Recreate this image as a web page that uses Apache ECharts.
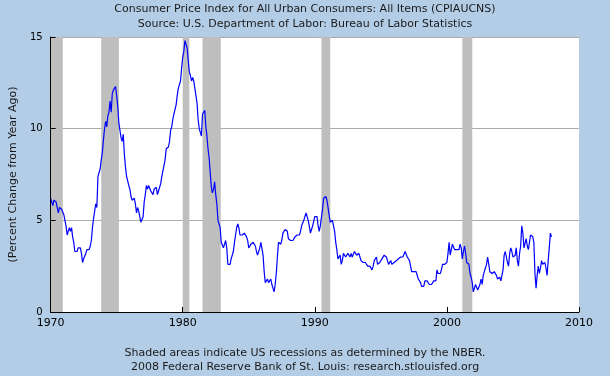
<!DOCTYPE html>
<html>
<head>
<meta charset="utf-8">
<script src="https://cdn.jsdelivr.net/npm/echarts@6/dist/echarts.min.js"></script>
<style>
    html, body { margin: 0; padding: 0; background: #b4cde6; }
    #chart { width: 610px; height: 376px; }
</style>
</head>
<body>
<div id="chart"></div>
<script>
// CPI-U, percent change from year ago, monthly (Jan..Dec per row)
const cpi1970s = [
    6.2, 6.1, 5.8, 6.1, 6.0, 6.0, 5.9, 5.4, 5.7, 5.7, 5.6, 5.6,
    5.3, 5.0, 4.7, 4.2, 4.4, 4.6, 4.4, 4.6, 4.1, 3.8, 3.3, 3.3,
    3.3, 3.5, 3.5, 3.5, 3.2, 2.7, 2.9, 2.9, 3.2, 3.4, 3.5, 3.4,
    3.6, 3.9, 4.6, 5.1, 5.5, 5.9, 5.7, 7.4, 7.4, 7.8, 8.3, 8.7,
    9.4, 10.0, 10.4, 10.1, 10.7, 10.9, 11.5, 10.9, 11.9, 12.1, 12.2, 12.3,
    11.8, 11.2, 10.3, 10.2, 9.5, 9.3, 9.7, 8.6, 7.9, 7.4, 7.4, 6.9,
    6.7, 6.3, 6.1, 6.0, 6.2, 5.9, 5.4, 5.7, 5.5, 5.5, 4.9, 4.9,
    5.2, 6.0, 6.4, 6.9, 6.7, 6.9, 6.8, 6.6, 6.6, 6.4, 6.7, 6.7,
    6.8, 6.4, 6.6, 6.5, 7.0, 7.4, 7.7, 7.8, 8.3, 8.9, 8.9, 9.0,
    9.3, 9.9, 10.1, 10.5, 10.8, 10.9, 11.3, 11.8, 12.2, 12.1, 12.6, 13.3
]
const cpi1980s = [
    13.9, 14.2, 14.8, 14.7, 14.4, 14.4, 13.1, 12.9, 12.6, 12.8, 12.6, 12.5,
    11.8, 11.4, 10.5, 10.0, 9.8, 9.6, 10.8, 10.8, 11.0, 10.1, 9.6, 8.9,
    8.4, 7.6, 6.8, 6.5, 6.7, 7.1, 6.4, 5.9, 5.0, 5.1, 4.6, 3.8,
    3.7, 3.5, 3.6, 3.9, 3.5, 2.6, 2.5, 2.6, 2.9, 2.9, 3.3, 3.8,
    4.2, 4.6, 4.8, 4.6, 4.2, 4.2, 4.2, 4.3, 4.3, 4.3, 4.1, 3.9,
    3.5, 3.5, 3.7, 3.7, 3.8, 3.8, 3.6, 3.3, 3.1, 3.2, 3.5, 3.8,
    3.9, 3.1, 2.2, 1.6, 1.6, 1.8, 1.6, 1.6, 1.8, 1.5, 1.3, 1.1,
    1.5, 2.1, 3.0, 3.8, 3.9, 3.7, 3.9, 4.3, 4.4, 4.5, 4.5, 4.4,
    4.0, 3.9, 3.9, 3.9, 3.9, 4.0, 4.1, 4.0, 4.2, 4.2, 4.2, 4.4,
    4.7, 4.8, 5.0, 5.1, 5.4, 5.2, 5.0, 4.7, 4.3, 4.5, 4.7, 4.6
]
const cpi1990s = [
    5.2, 5.3, 5.2, 4.7, 4.4, 4.7, 4.8, 5.6, 6.2, 6.3, 6.3, 6.1,
    5.7, 5.3, 4.9, 4.9, 5.0, 4.7, 4.4, 3.8, 3.4, 2.9, 3.0, 3.1,
    2.6, 2.8, 3.2, 3.2, 3.0, 3.1, 3.2, 3.1, 3.0, 3.2, 3.0, 2.9,
    3.3, 3.2, 3.1, 3.2, 3.2, 3.0, 2.8, 2.8, 2.7, 2.8, 2.7, 2.7,
    2.5, 2.5, 2.5, 2.4, 2.3, 2.5, 2.8, 2.9, 3.0, 2.6, 2.7, 2.7,
    2.8, 2.9, 2.9, 3.1, 3.2, 3.0, 2.8, 2.6, 2.5, 2.8, 2.6, 2.5,
    2.7, 2.7, 2.8, 2.9, 2.9, 2.8, 3.0, 2.9, 3.0, 3.0, 3.3, 3.3,
    3.0, 3.0, 2.8, 2.5, 2.2, 2.3, 2.2, 2.2, 2.2, 2.1, 1.8, 1.7,
    1.6, 1.4, 1.4, 1.4, 1.7, 1.7, 1.7, 1.6, 1.5, 1.5, 1.5, 1.6,
    1.7, 1.6, 1.7, 2.3, 2.1, 2.0, 2.1, 2.3, 2.6, 2.6, 2.6, 2.7
]
const cpi2000s = [
    2.7, 3.2, 3.8, 3.1, 3.2, 3.7, 3.7, 3.4, 3.5, 3.4, 3.4, 3.4,
    3.7, 3.5, 2.9, 3.3, 3.6, 3.2, 2.7, 2.7, 2.6, 2.1, 1.9, 1.6,
    1.1, 1.1, 1.5, 1.6, 1.2, 1.1, 1.5, 1.8, 1.5, 2.0, 2.2, 2.4,
    2.6, 3.0, 3.0, 2.2, 2.1, 2.1, 2.1, 2.2, 2.3, 2.0, 1.8, 1.9,
    1.9, 1.7, 1.7, 2.3, 3.1, 3.3, 3.0, 2.7, 2.5, 3.2, 3.5, 3.3,
    3.0, 3.0, 3.1, 3.5, 2.8, 2.5, 3.2, 3.6, 4.7, 4.3, 3.5, 3.4,
    4.0, 3.6, 3.4, 3.5, 4.2, 4.3, 4.1, 3.8, 2.1, 1.3, 2.0, 2.5,
    2.1, 2.4, 2.8, 2.6, 2.7, 2.7, 2.4, 2.0, 2.8, 3.5, 4.3, 4.1
]
const firstYear = 1970

// NBER recessions (decimal years)
const recessionStart = [1970.0, 1973.83, 1980.0, 1981.5, 1990.5, 2001.17]
const recessionEnd = [1970.92, 1975.17, 1980.5, 1982.88, 1991.17, 2001.92]

const xTicks = [1970, 1980, 1990, 2000, 2010]
const yTicks = [0, 5, 10, 15]

const cpiAll = cpi1970s.concat(cpi1980s, cpi1990s, cpi2000s)
const lineData = cpiAll.map((v, i) => [firstYear + i / 12, v])
const bands = recessionStart.map((s, i) => [{ xAxis: s }, { xAxis: recessionEnd[i] }])

const font = 'DejaVu Sans'
let mycharts = echarts.init(document.getElementById('chart'))
mycharts.setOption({
    animation: false,
    backgroundColor: '#b4cde6',
    textStyle: { fontFamily: font },
    title: [
        {
            text: 'Consumer Price Index for All Urban Consumers: All Items (CPIAUCNS)\nSource: U.S. Department of Labor: Bureau of Labor Statistics',
            left: 305,
            top: 2,
            padding: 0,
            textAlign: 'center',
            textStyle: { fontFamily: font, fontSize: 11, fontWeight: 'normal', color: '#1a1a1a', lineHeight: 15 }
        },
        {
            text: 'Shaded areas indicate US recessions as determined by the NBER.\n2008 Federal Reserve Bank of St. Louis: research.stlouisfed.org',
            left: 305,
            top: 346,
            padding: 0,
            textAlign: 'center',
            textStyle: { fontFamily: font, fontSize: 11, fontWeight: 'normal', color: '#1a1a1a', lineHeight: 14 }
        }
    ],
    grid: { left: 48, right: 31, top: 37, bottom: 64, show: true, backgroundColor: '#ffffff', borderWidth: 0 },
    xAxis: {
        type: 'value',
        min: xTicks[0],
        max: xTicks[xTicks.length - 1],
        interval: 10,
        z: 10,
        splitLine: { show: false },
        axisLine: { show: true, onZero: false, lineStyle: { color: '#000', width: 1 } },
        axisTick: { show: true, inside: true, length: 5, lineStyle: { color: '#000' } },
        axisLabel: { color: '#000', fontSize: 11, margin: 6, fontFamily: font, formatter: v => String(v) }
    },
    yAxis: [
        {
            type: 'value',
            min: yTicks[0],
            max: yTicks[yTicks.length - 1],
            interval: 5,
            z: 10,
            name: '(Percent Change from Year Ago)',
            nameLocation: 'middle',
            nameRotate: 90,
            nameGap: 24,
            nameTextStyle: { color: '#1a1a1a', fontSize: 11, fontFamily: font },
            splitLine: { show: false },
            axisLine: { show: true, lineStyle: { color: '#000', width: 1 } },
            axisTick: { show: true, inside: true, length: 5, lineStyle: { color: '#000' } },
            axisLabel: { color: '#000', fontSize: 10, margin: 8, fontFamily: font }
        },
        {
            //只画网格线
            type: 'value',
            min: yTicks[0],
            max: yTicks[yTicks.length - 1],
            interval: 5,
            position: 'left',
            z: 0,
            axisLine: { show: false },
            axisTick: { show: false },
            axisLabel: { show: false },
            splitLine: { show: true, lineStyle: { color: '#aaaaaa', width: 1 } }
        }
    ],
    series: [
        {
            //衰退期阴影
            type: 'line',
            data: [],
            silent: true,
            markArea: {
                silent: true,
                itemStyle: { color: '#bebebe', opacity: 1 },
                data: bands
            }
        },
        {
            type: 'line',
            data: lineData,
            showSymbol: false,
            symbol: 'none',
            z: 5,
            lineStyle: { color: '#0000ff', width: 1.2 }
        }
    ]
})
</script>
</body>
</html>
